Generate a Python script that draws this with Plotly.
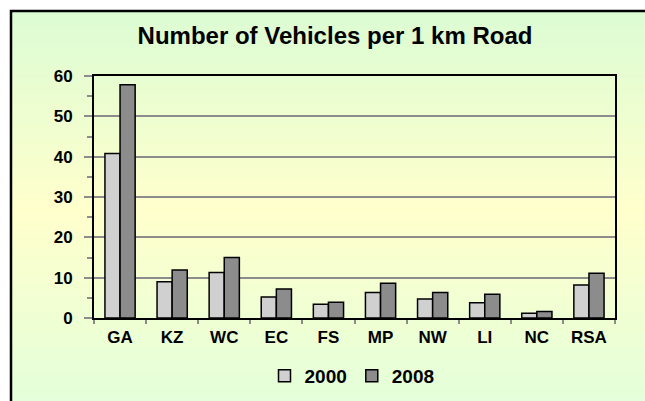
import base64, struct, zlib
import plotly.graph_objects as go

categories = ["GA", "KZ", "WC", "EC", "FS", "MP", "NW", "LI", "NC", "RSA"]
values_2000 = [40.8, 9.0, 11.3, 5.2, 3.4, 6.3, 4.7, 3.8, 1.2, 8.2]
values_2008 = [57.8, 11.9, 15.0, 7.2, 3.9, 8.6, 6.3, 5.9, 1.6, 11.1]
series_names = ["2000", "2008"]
y_ticks = [0, 10, 20, 30, 40, 50, 60]

W, H = 645, 401
PL, PR, PT, PB = 94, 615, 76, 318  # plot area in pixels

def px2x(px):
    return (px - PL) / (PR - PL)

def py2y(py):
    return (PB - py) / (PB - PT)

# vertical gradient background as PNG
def lerp(a, b, t):
    return tuple(int(round(a[i] + (b[i] - a[i]) * t)) for i in range(3))

stops = [(0, (220, 252, 212)), (180, (255, 255, 204)), (390, (222, 255, 220))]
rows = []
hgt = 390
wid = 4
for r in range(hgt):
    for k in range(len(stops) - 1):
        if stops[k][0] <= r <= stops[k + 1][0]:
            t = (r - stops[k][0]) / (stops[k + 1][0] - stops[k][0])
            c = lerp(stops[k][1], stops[k + 1][1], t)
            break
    rows.append(b"\x00" + bytes(c) * wid)
raw = b"".join(rows)

def chunk(tag, data):
    return struct.pack(">I", len(data)) + tag + data + struct.pack(">I", zlib.crc32(tag + data) & 0xffffffff)

png = b"\x89PNG\r\n\x1a\n" + chunk(b"IHDR", struct.pack(">IIBBBBB", wid, hgt, 8, 2, 0, 0, 0)) \
    + chunk(b"IDAT", zlib.compress(raw)) + chunk(b"IEND", b"")
img_src = "data:image/png;base64," + base64.b64encode(png).decode()

FONT = "Liberation Sans, Arial, sans-serif"
GRID = "#8c8c8c"

fig = go.Figure()
fig.add_trace(go.Bar(x=categories, y=values_2000, name=series_names[0],
                     marker=dict(color="#d0d0d0", line=dict(color="black", width=1.5))))
fig.add_trace(go.Bar(x=categories, y=values_2008, name=series_names[1],
                     marker=dict(color="#8c8c8c", line=dict(color="black", width=1.5))))

n = len(categories)
fig.update_layout(
    width=W, height=H,
    margin=dict(l=PL, r=W - PR, t=PT, b=H - PB, pad=0, autoexpand=False),
    paper_bgcolor="white",
    plot_bgcolor="rgba(0,0,0,0)",
    barmode="group", bargap=0.42, bargroupgap=0,
    font=dict(family=FONT, color="black"),
    title=dict(text="<b>Number of Vehicles per 1 km Road</b>",
               font=dict(family=FONT, size=24, color="black"),
               xref="container", x=335 / W, xanchor="center",
               yref="container", y=1 - 36 / H, yanchor="middle"),
    showlegend=True,
    legend=dict(orientation="h", x=px2x(352), xanchor="center",
                y=py2y(376), yanchor="middle",
                font=dict(family=FONT, size=19, color="black", weight="bold"),
                bgcolor="rgba(0,0,0,0)", itemwidth=30),
    xaxis=dict(type="category", showline=True, linecolor="black", linewidth=1.5,
               mirror=True, ticks="outside", tickson="boundaries", ticklen=4,
               tickcolor=GRID, tickwidth=1.5, showgrid=False, ticklabelstandoff=3,
               tickfont=dict(family=FONT, size=17, color="black", weight="bold"),
               range=[-0.5, n - 0.5]),
    xaxis2=dict(overlaying="x", anchor="y", range=[-0.5, n - 0.5],
                tickvals=[i - 0.5 for i in range(n + 1)], ticks="inside", ticklen=5,
                tickcolor=GRID, tickwidth=1.5, showticklabels=False, showgrid=False,
                showline=False, zeroline=False, side="bottom"),
    yaxis=dict(range=[0, 60], tickvals=y_ticks, showline=True, linecolor="black",
               linewidth=2, mirror=True, ticks="outside", ticklen=8, tickcolor=GRID,
               tickwidth=1.5, showgrid=True, gridcolor=GRID, gridwidth=1.5,
               zeroline=False, ticklabelstandoff=8,
               tickfont=dict(family=FONT, size=17, color="black", weight="bold"),
               minor=dict(dtick=5, ticks="outside", ticklen=5, tickcolor=GRID,
                          tickwidth=1.5, showgrid=False)),
    yaxis2=dict(overlaying="y", anchor="x", side="left", range=[0, 60],
                tickvals=y_ticks, ticks="inside", ticklen=9, tickcolor=GRID,
                tickwidth=1.5, showticklabels=False, showgrid=False, showline=False,
                zeroline=False,
                minor=dict(dtick=5, ticks="inside", ticklen=5, tickcolor=GRID,
                           tickwidth=1.5, showgrid=False)),
    images=[dict(source=img_src, xref="paper", yref="paper",
                 x=px2x(11), y=py2y(11), sizex=px2x(W + 40) - px2x(11),
                 sizey=py2y(11) - py2y(H + 40), xanchor="left", yanchor="top",
                 sizing="stretch", layer="below")],
    shapes=[dict(type="rect", xref="paper", yref="paper",
                 x0=px2x(11), x1=px2x(W + 40), y0=py2y(11), y1=py2y(H + 40),
                 line=dict(color="black", width=2.5), fillcolor="rgba(0,0,0,0)",
                 layer="above")],
)

fig.write_html(
    "out.html",
    config={"displayModeBar": False},
    post_script=("document.documentElement.style.overflow='hidden';"
                 "document.body.style.margin='0';document.body.style.overflow='hidden';"),
)
